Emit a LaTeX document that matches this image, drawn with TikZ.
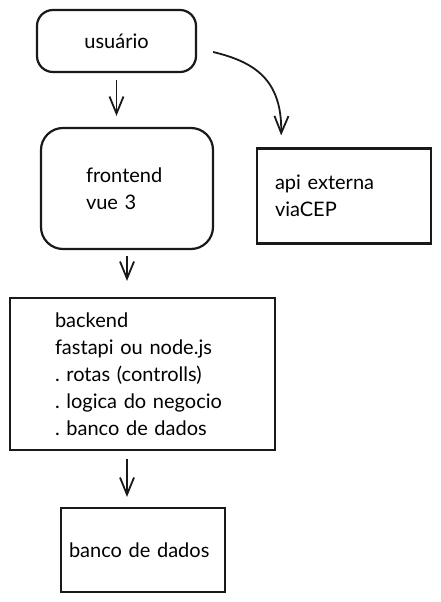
\documentclass[tikz,border=0pt]{standalone}
\usepackage{fontspec}
\setmainfont{Lato}
\usetikzlibrary{arrows.meta}
\frenchspacing
\begin{document}
\begin{tikzpicture}[x=1pt, y=-1pt]
        \tikzstyle{box} = [rectangle, draw=black!90, line width=2.2pt, font=\fontsize{20}{27}\selectfont, align=left]
        \tikzstyle{rbox} = [box, rounded corners=16pt]
        \tikzstyle{arrow} = [line width=1.8pt, -{Straight Barb[length=17pt,width=14pt]}, black!90]
        \useasboundingbox (0,0) rectangle (441,602);
        \node (usr) [rbox, minimum width=159pt, minimum height=62pt, align=center] at (116.5, 41) {usuário};
        \node (fe) [rbox, rounded corners=22pt, minimum width=172pt, minimum height=121pt, text width=82pt, inner xsep=45pt] at (127, 188.5) {frontend\\vue 3};
        \node (api) [box, minimum width=174pt, minimum height=95pt, text width=138pt, inner xsep=18pt] at (344, 196) {api externa\\viaCEP};
        \node (be) [box, minimum width=265pt, minimum height=152pt, text width=175pt, inner xsep=45pt] at (142.5, 374) {backend\\fastapi ou node.js\\. rotas (controlls)\\. logica do negocio\\. banco de dados};
        \node (db) [box, minimum width=164pt, minimum height=84pt, text width=148pt, inner xsep=8pt, inner ysep=0pt] at (143, 550) {banco de dados\\[14pt]};
        \draw[arrow, shorten <=7pt, shorten >=11pt] (usr.south) to (usr.south |- fe.north);
        \draw[arrow, shorten >=12pt] ([shift={(16,11)}]usr.east) .. controls (255,62) and (282,80) .. ([xshift=-63pt]api.north);
        \draw[arrow, shorten <=6pt, shorten >=16pt] (fe.south) to (fe.south |- be.north);
        \draw[arrow, shorten <=8pt, shorten >=10pt] (be.south -| fe.south) to (db.north -| fe.south);
    \end{tikzpicture}
\end{document}
